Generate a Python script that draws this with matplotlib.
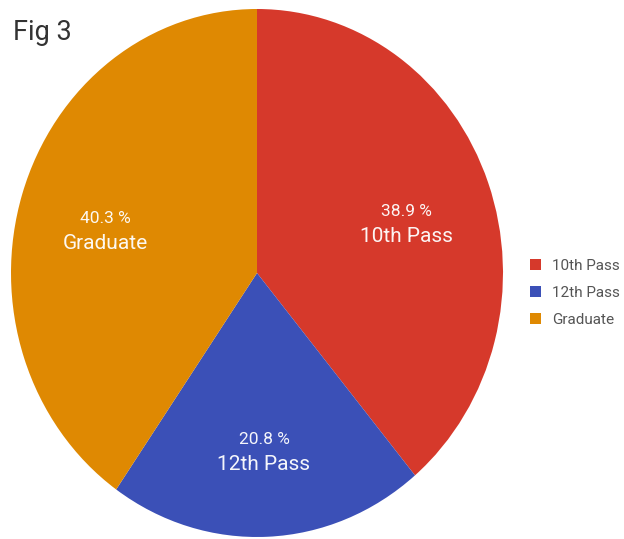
import numpy as np
import matplotlib
matplotlib.use("Agg")
import matplotlib.pyplot as plt
from matplotlib.patches import Patch

plt.rcParams['font.family'] = ['Roboto', 'DejaVu Sans']

categories = ["10th Pass", "12th Pass", "Graduate"]
shares = [38.9, 20.8, 40.3]
colors = ["#D6392B", "#3B50B7", "#DF8902"]
title = "Fig 3"

W, H = 624, 539
fig = plt.figure(figsize=(W / 100, H / 100), dpi=100)
fig.patch.set_facecolor("white")

# pie occupies a slightly tall ellipse on the left of the figure
ax = fig.add_axes([11 / W, 2 / H, 492 / W, 528 / H])
wedges, _ = ax.pie(shares, colors=colors, startangle=90, counterclock=False,
                   radius=1.0, wedgeprops=dict(linewidth=0))
ax.set_aspect("auto")
ax.set_xlim(-1, 1)
ax.set_ylim(-1, 1)
ax.axis("off")

# labels inside each wedge: percentage above the category name
label_r = 0.645
label_drop = 0.035
for w, name, val in zip(wedges, categories, shares):
    mid = np.deg2rad((w.theta1 + w.theta2) / 2)
    x, y = label_r * np.cos(mid), label_r * np.sin(mid) - label_drop
    ax.annotate(f"{val} %", (x, y), xytext=(0, 9), textcoords="offset points",
                ha="center", va="center", color="white", fontsize=12.5,
                alpha=0.95)
    ax.annotate(name, (x, y), xytext=(0, -9), textcoords="offset points",
                ha="center", va="center", color="white", fontsize=15,
                alpha=0.95)

handles = [Patch(facecolor=c, edgecolor="none") for c in colors]
leg = fig.legend(handles, categories, loc="center left",
                 bbox_to_anchor=(524 / W, 1 - 293 / H), frameon=False,
                 fontsize=11, handlelength=0.72, handleheight=0.72,
                 handletextpad=0.7, labelspacing=0.85, borderaxespad=0)
for t in leg.get_texts():
    t.set_color("#555555")

fig.text(13 / W, 1 - 33 / H, title, fontsize=19.5, color="#333333",
         ha="left", va="center")

fig.savefig("out.png", dpi=100, facecolor="white")
